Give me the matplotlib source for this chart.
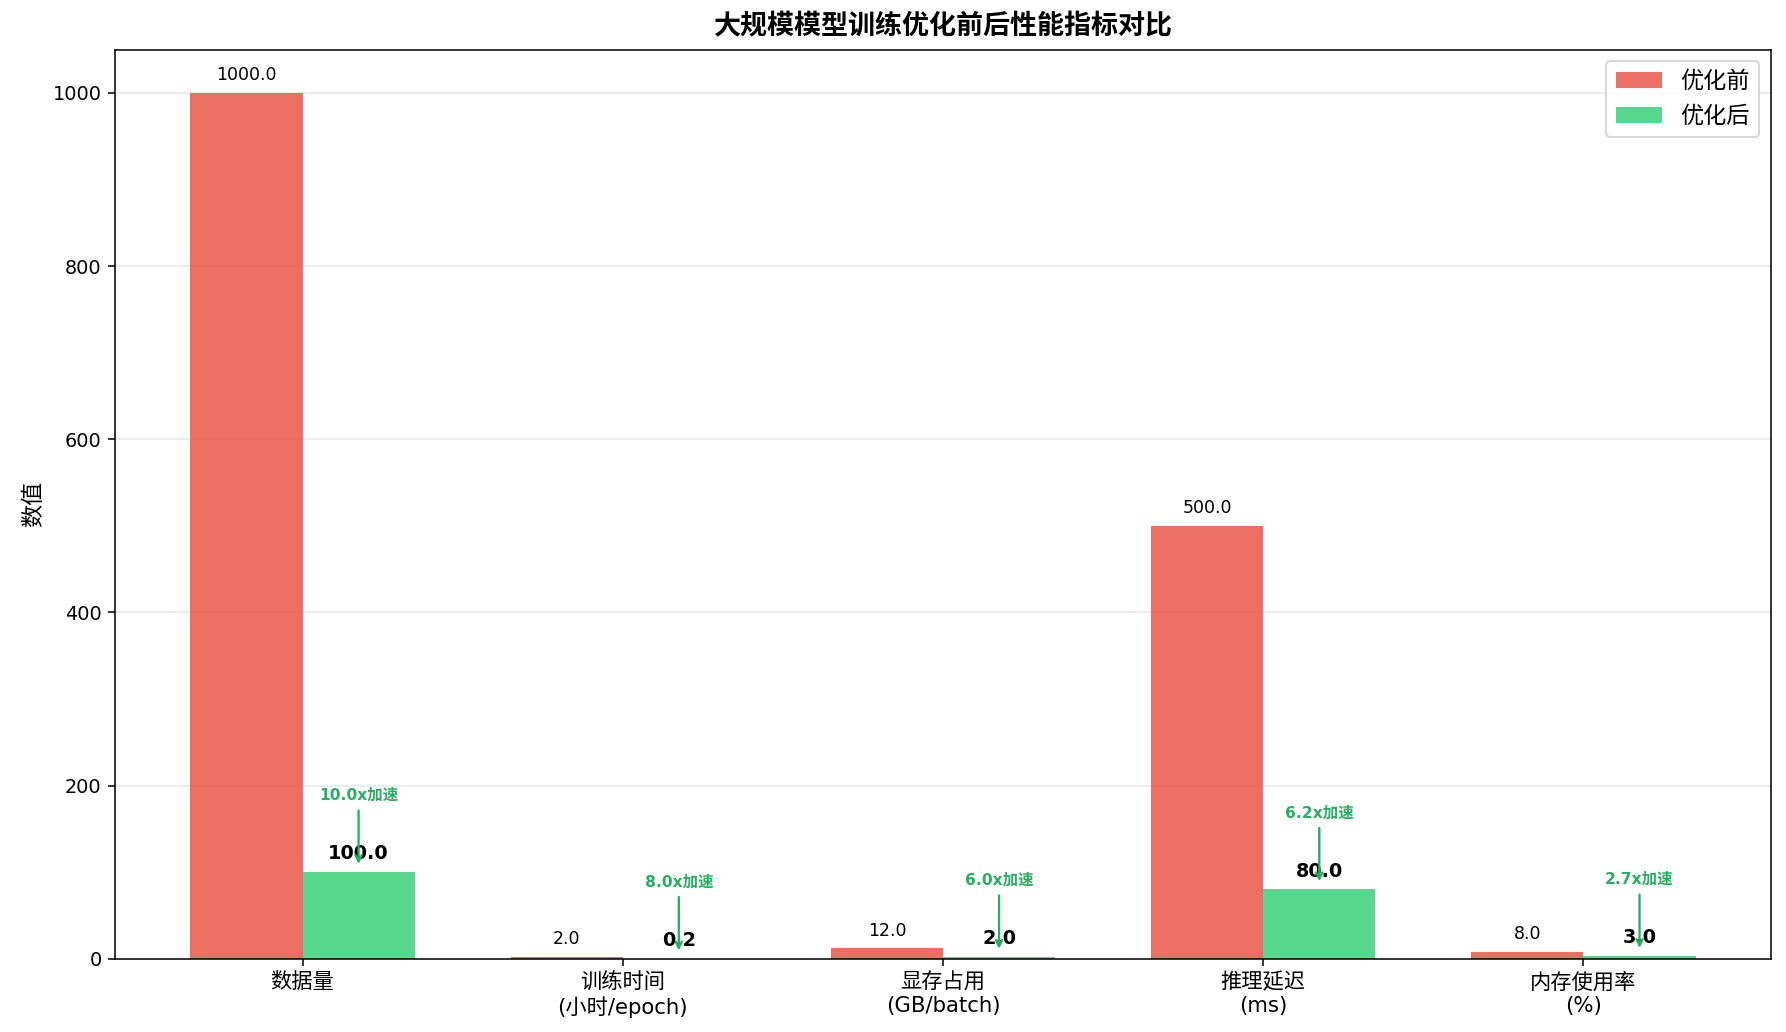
import matplotlib
matplotlib.use('Agg')
import matplotlib.pyplot as plt
import numpy as np

plt.rcParams['font.family'] = ['DejaVu Sans', 'Noto Sans CJK SC']

categories = ['数据量', '训练时间\n(小时/epoch)', '显存占用\n(GB/batch)', '推理延迟\n(ms)', '内存使用率\n(%)']
before = [1000.0, 2.0, 12.0, 500.0, 8.0]
after = [100.0, 0.25, 2.0, 80.0, 3.0]
labels = ['优化前', '优化后']

fig = plt.figure(figsize=(1786 / 139, 1032 / 139), dpi=139)
ax = fig.add_axes([0.0645, 0.071, 0.927, 0.881])

x = np.arange(len(categories))
width = 0.35

bars1 = ax.bar(x - width / 2, before, width, label=labels[0], color='#e74c3c', alpha=0.8)
bars2 = ax.bar(x + width / 2, after, width, label=labels[1], color='#2ecc71', alpha=0.8)

for b, v in zip(bars1, before):
    ax.text(b.get_x() + b.get_width() / 2, v + 10, f'{v:.1f}', ha='center', va='bottom', fontsize=9)
for b, v in zip(bars2, after):
    ax.text(b.get_x() + b.get_width() / 2, v + 10, f'{v:.1f}', ha='center', va='bottom',
            fontsize=10, fontweight='bold')

for i, (b, a) in enumerate(zip(before, after)):
    ratio = b / a
    ax.annotate(f'{ratio:.1f}x加速', xy=(x[i] + width / 2, a + 5), xytext=(x[i] + width / 2, a + 80),
                ha='center', va='bottom', fontsize=8, fontweight='bold', color='#27ae60',
                arrowprops=dict(arrowstyle='->', color='#27ae60', lw=1.2))

ax.set_xticks(x)
ax.set_xticklabels(categories, fontsize=11)
ax.tick_params(axis='y', labelsize=10)
ax.set_ylabel('数值', fontsize=12)
ax.set_title('大规模模型训练优化前后性能指标对比', fontsize=14, fontweight='bold', pad=8)
ax.legend(fontsize=12, loc='upper right')
ax.grid(axis='y', alpha=0.3)
ax.set_axisbelow(True)

fig.savefig('out.png', dpi=139)
